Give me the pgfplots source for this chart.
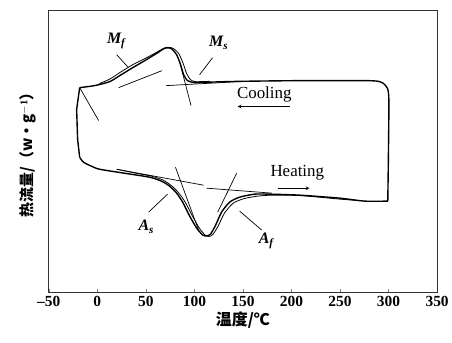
\documentclass[border=0pt]{standalone}
\usepackage{fontspec}
\setmainfont{Liberation Serif}
\newfontfamily\cjk{Noto Sans CJK SC}
\usepackage{pgfplots}
\pgfplotsset{compat=1.18}
\begin{document}
\begin{tikzpicture}
\begin{axis}[name=ax,
  scale only axis, width=390pt, height=284pt,
  xmin=-50, xmax=350, ymin=0, ymax=284,
  xtick={-50,0,...,350}, xtick pos=bottom, ytick=\empty,
  xticklabels={\textbf{\textendash50},\textbf{0},\textbf{50},\textbf{100},\textbf{150},\textbf{200},\textbf{250},\textbf{300},\textbf{350}},
  ticklabel style={font=\fontsize{15.5}{15.5}\selectfont},
  major tick length=4pt,
  axis line style={line width=0.8pt, black!80},
  xlabel={\cjk\bfseries 温度/℃}, xlabel style={font=\fontsize{16}{16}\selectfont, yshift=2pt},
  ylabel={\cjk\bfseries 热流量/（w·g$^{\mathbf{-1}}$）},
  ylabel style={font=\fontsize{15}{15}\selectfont, at={(rel axis cs:0,0.5)}, anchor=center, xshift=0pt, yshift=21pt},
  clip=false,
]
% main loop
\addplot[black, line width=1.4pt, smooth, tension=0.4] coordinates {
(299.2,92) (300.3,194) (297,208) (290.8,212) (277,213) (208,213) (146.6,212.3) (115.7,211.5) (100.2,211) (93,213) (88.9,219) (85.8,229) (81.7,239) (76.5,245) (72.4,246) (68.3,245) (62.1,241) (48.7,233) (36.4,226) (23,218) (12.7,212) (-2.8,208) (-18.2,206)
};
\addplot[black, line width=1.4pt] coordinates {(-18.2,206) (-21.3,184) (-20.3,154) (-18.2,136)};
\addplot[black, line width=1.4pt, smooth, tension=0.4] coordinates {
(-18.2,136) (-14.1,131) (-5.9,127) (2.4,124) (28.1,120) (53.9,116) (66.2,112) (74.5,107) (81.7,100) (87.9,91) (95.1,77) (102.3,65) (108.5,58) (112.6,57) (116.7,59) (121.9,68) (128,81) (136.3,91) (146.6,96) (162,99) (177.5,99) (208.4,98) (249.6,95) (275.3,92) (299.2,92)
};
% second traces
\addplot[black, line width=0.8pt, smooth, tension=0.4] coordinates {
(115.7,212.3) (101,212) (96,214) (92,220) (88.5,230) (84,240) (78,245.5) (73,246.5) (68.3,245.5) (62.1,242) (48.7,235) (36.4,229) (23,221) (12.7,214.5) (2,210)
};
\addplot[black, line width=0.8pt, smooth, tension=0.4] coordinates {
(20,124) (40,120) (56,117) (68,113) (77,107) (84,100) (90.5,91) (98,77) (105,65) (111,58) (115,56.5) (119,58.5) (124.5,67) (131,80) (140,90) (151,94.5) (165,97) (180,98) (210,97.5) (250,94) (270,92.5)
};
% tangent lines
\addplot[black, line width=0.7pt] coordinates {(71,208) (146,212)};
\addplot[black, line width=0.7pt] coordinates {(85,231) (96.5,188)};
\addplot[black, line width=0.7pt] coordinates {(22,206) (66.5,223)};
\addplot[black, line width=0.7pt] coordinates {(-18.2,206) (1.3,173)};
\addplot[black, line width=0.7pt] coordinates {(20,124) (109.5,108)};
\addplot[black, line width=0.7pt] coordinates {(112.6,105) (180,100)};
\addplot[black, line width=0.7pt] coordinates {(80.5,126) (105,61)};
\addplot[black, line width=0.7pt] coordinates {(143.5,120) (124,81)};
% leader lines
\addplot[black, line width=0.7pt] coordinates {(20,239) (31.2,227)};
\addplot[black, line width=0.7pt] coordinates {(118.7,236) (105.3,219)};
\addplot[black, line width=0.7pt] coordinates {(72.4,99) (52.9,81)};
\addplot[black, line width=0.7pt] coordinates {(146.6,82) (169.2,63)};
% arrows
\addplot[black, line width=0.7pt, -stealth] coordinates {(198,187) (144.5,187)};
\addplot[black, line width=0.7pt, -stealth] coordinates {(185.7,105) (218.6,105)};
% labels
\node[font=\fontsize{16}{16}\selectfont\bfseries\itshape] at (axis cs:19.5,253) {M\textsubscript{f}};
\node[font=\fontsize{16}{16}\selectfont\bfseries\itshape] at (axis cs:125,251) {M\textsubscript{s}};
\node[font=\fontsize{16}{16}\selectfont\bfseries\itshape] at (axis cs:50.5,66) {A\textsubscript{s}};
\node[font=\fontsize{16}{16}\selectfont\bfseries\itshape] at (axis cs:174,52) {A\textsubscript{f}};
\node[font=\fontsize{17}{17}\selectfont] at (axis cs:172,199) {Cooling};
\node[font=\fontsize{17}{17}\selectfont] at (axis cs:206,121) {Heating};
\end{axis}
\path ([xshift=-49pt,yshift=10pt]ax.north west) rectangle ([xshift=13pt,yshift=-50pt]ax.south east);
\end{tikzpicture}
\end{document}
